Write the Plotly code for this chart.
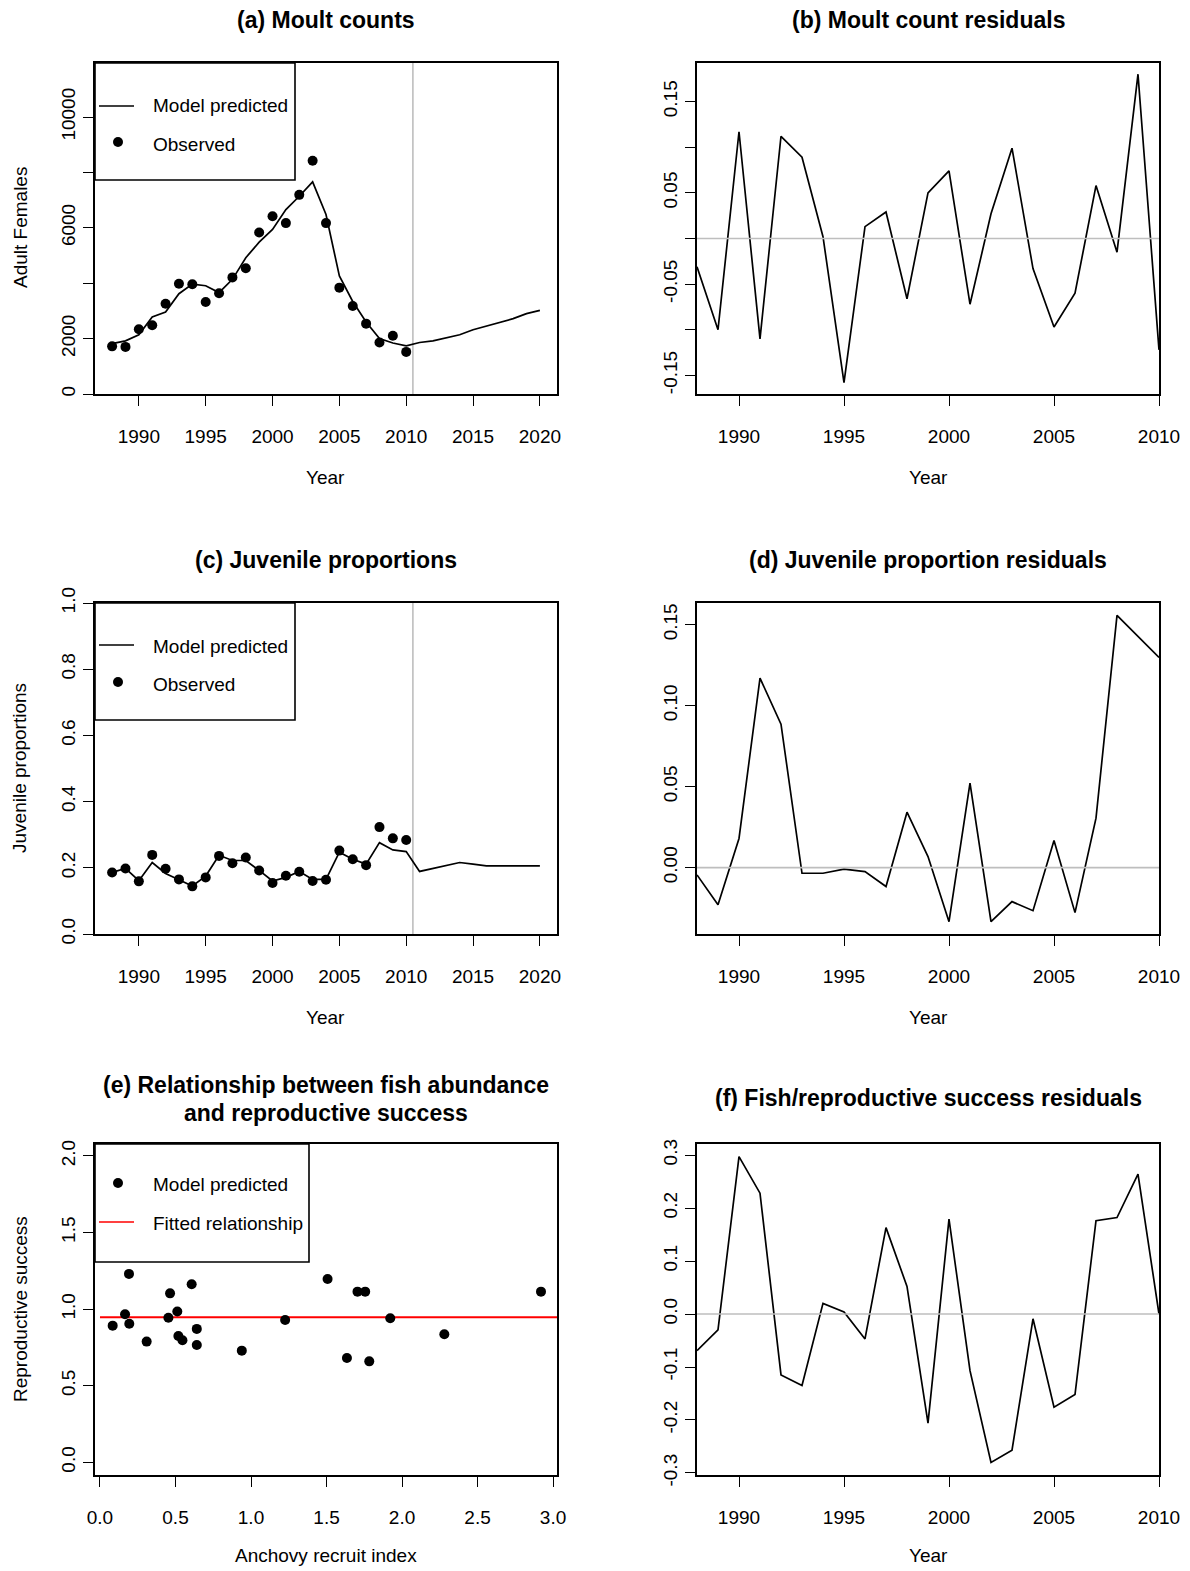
import plotly.graph_objects as go

# ---------------- data ----------------
years_obs = list(range(1988, 2011))
years_pred = list(range(1988, 2021))

moult_obs = [1720, 1700, 2340, 2480, 3260, 3980, 3960, 3320, 3640, 4210, 4540, 5830,
             6420, 6170, 7190, 8420, 6170, 3840, 3180, 2540, 1860, 2100, 1520]
moult_pred = [1820, 1920, 2140, 2780, 2960, 3620, 3970, 3910, 3660, 4140, 4920, 5480,
              5940, 6660, 7140, 7660, 6480, 4260, 3340, 2600, 2000, 1840, 1740,
              1860, 1920, 2040, 2140, 2320, 2460, 2600, 2720, 2900, 3020]
moult_resid = [-0.031, -0.100, 0.117, -0.110, 0.112, 0.089, 0.002, -0.158, 0.013, 0.029,
               -0.066, 0.050, 0.074, -0.072, 0.027, 0.099, -0.033, -0.097, -0.060, 0.058,
               -0.015, 0.180, -0.122]

juv_obs = [0.186, 0.198, 0.159, 0.239, 0.197, 0.165, 0.144, 0.171, 0.236, 0.214, 0.231,
           0.192, 0.154, 0.176, 0.188, 0.160, 0.164, 0.252, 0.226, 0.208, 0.323, 0.289, 0.284]
juv_pred = [0.186, 0.198, 0.161, 0.216, 0.183, 0.163, 0.145, 0.175, 0.238, 0.222, 0.222,
            0.192, 0.160, 0.171, 0.189, 0.165, 0.165, 0.247, 0.226, 0.211, 0.276, 0.254,
            0.249, 0.189, 0.198, 0.207, 0.216, 0.211, 0.206, 0.206, 0.206, 0.206, 0.206]
juv_resid = [-0.0045, -0.023, 0.018, 0.117, 0.0886, -0.0035, -0.0035, -0.001, -0.0025,
             -0.0117, 0.0342, 0.0068, -0.0334, 0.0521, -0.0334, -0.021, -0.0266, 0.0167,
             -0.0278, 0.0305, 0.1558, 0.1428, 0.1298]

anchovy_idx = [0.084, 0.166, 0.192, 0.194, 0.309, 0.453, 0.464, 0.512, 0.519, 0.546,
               0.607, 0.641, 0.641, 0.939, 1.226, 1.507, 1.635, 1.705, 1.756, 1.783,
               1.922, 2.280, 2.920]
repro_success = [0.892, 0.966, 1.230, 0.905, 0.788, 0.944, 1.103, 0.984, 0.825, 0.797,
                 1.162, 0.871, 0.766, 0.729, 0.929, 1.197, 0.681, 1.114, 1.114, 0.659,
                 0.940, 0.836, 1.114]
fit_x = [0.0, 3.1]
fit_y = [0.947, 0.947]
fish_resid = [-0.069, -0.030, 0.297, 0.228, -0.115, -0.135, 0.020, 0.004, -0.047, 0.163,
              0.052, -0.206, 0.179, -0.107, -0.280, -0.257, -0.009, -0.176, -0.152, 0.176,
              0.182, 0.264, 0.0]

# ---------------- layout helpers ----------------
# The page body has an 8 px margin, so the figure is sized to fit the window and
# all positions below are given in window pixels and shifted by that offset.
OFF = 8
W, H = 1190 - OFF, 1571 - OFF
FONT = "Liberation Sans, Arial, sans-serif"
FS = 19
TFS = 23
cols = [(95, 557), (697, 1159)]
rows = [(63, 394), (603, 934), (1144, 1475)]


def px(x):
    return (x - OFF) / W


def py(y):
    return 1 - (y - OFF) / H


fig = go.Figure()

panels = {
    1: dict(col=0, row=0, xr=[1986.72, 2021.28], yr=[0, 11950],
            xt=[1990, 1995, 2000, 2005, 2010, 2015, 2020],
            yt=[0, 2000, 4000, 6000, 8000, 10000],
            ytt=["0", "2000", "", "6000", "", "10000"]),
    2: dict(col=1, row=0, xr=[1988, 2010], yr=[-0.1704, 0.1923],
            xt=[1990, 1995, 2000, 2005, 2010],
            yt=[-0.15, -0.10, -0.05, 0.0, 0.05, 0.10, 0.15],
            ytt=["-0.15", "", "-0.05", "", "0.05", "", "0.15"]),
    3: dict(col=0, row=1, xr=[1986.72, 2021.28], yr=[0, 1],
            xt=[1990, 1995, 2000, 2005, 2010, 2015, 2020],
            yt=[0, 0.2, 0.4, 0.6, 0.8, 1.0],
            ytt=["0.0", "0.2", "0.4", "0.6", "0.8", "1.0"]),
    4: dict(col=1, row=1, xr=[1988, 2010], yr=[-0.0410, 0.1634],
            xt=[1990, 1995, 2000, 2005, 2010],
            yt=[0.0, 0.05, 0.10, 0.15],
            ytt=["0.00", "0.05", "0.10", "0.15"]),
    5: dict(col=0, row=2, xr=[-0.033, 3.026], yr=[-0.083, 2.078],
            xt=[0, 0.5, 1.0, 1.5, 2.0, 2.5, 3.0],
            xtt=["0.0", "0.5", "1.0", "1.5", "2.0", "2.5", "3.0"],
            yt=[0, 0.5, 1.0, 1.5, 2.0],
            ytt=["0.0", "0.5", "1.0", "1.5", "2.0"]),
    6: dict(col=1, row=2, xr=[1988, 2010], yr=[-0.3038, 0.3208],
            xt=[1990, 1995, 2000, 2005, 2010],
            yt=[-0.3, -0.2, -0.1, 0.0, 0.1, 0.2, 0.3],
            ytt=["-0.3", "-0.2", "-0.1", "0.0", "0.1", "0.2", "0.3"]),
}

axis_common = dict(showline=True, mirror=True, linecolor="black", linewidth=1.6,
                   ticks="outside", ticklen=10, tickwidth=1.4, tickcolor="black",
                   showgrid=False, zeroline=False, automargin=False,
                   tickfont=dict(family=FONT, size=FS, color="black"))

for i, p in panels.items():
    c0, c1 = cols[p["col"]]
    r0, r1 = rows[p["row"]]
    xa = dict(axis_common, domain=[px(c0), px(c1)], range=p["xr"],
              tickmode="array", tickvals=p["xt"],
              ticktext=p.get("xtt", [str(v) for v in p["xt"]]),
              anchor=f"y{i}" if i > 1 else "y", ticklabelstandoff=14)
    ya = dict(axis_common, domain=[py(r1), py(r0)], range=p["yr"],
              tickmode="array", tickvals=p["yt"], ticktext=p["ytt"],
              tickangle=-90, anchor=f"x{i}" if i > 1 else "x", ticklabelstandoff=1)
    fig.layout[f"xaxis{i if i > 1 else ''}"] = xa
    fig.layout[f"yaxis{i if i > 1 else ''}"] = ya

line_style = dict(color="black", width=1.7)
mk = dict(color="black", size=10)

# (a)
fig.add_trace(go.Scatter(x=years_pred, y=moult_pred, mode="lines", line=line_style,
                         xaxis="x", yaxis="y", name="Model predicted"))
fig.add_trace(go.Scatter(x=years_obs, y=moult_obs, mode="markers", marker=mk,
                         xaxis="x", yaxis="y", name="Observed"))
# (b)
fig.add_trace(go.Scatter(x=years_obs, y=moult_resid, mode="lines", line=line_style,
                         xaxis="x2", yaxis="y2", name="Residual"))
# (c)
fig.add_trace(go.Scatter(x=years_pred, y=juv_pred, mode="lines", line=line_style,
                         xaxis="x3", yaxis="y3", name="Model predicted"))
fig.add_trace(go.Scatter(x=years_obs, y=juv_obs, mode="markers", marker=mk,
                         xaxis="x3", yaxis="y3", name="Observed"))
# (d)
fig.add_trace(go.Scatter(x=years_obs, y=juv_resid, mode="lines", line=line_style,
                         xaxis="x4", yaxis="y4", name="Residual"))
# (e)
fig.add_trace(go.Scatter(x=fit_x, y=fit_y, mode="lines", line=dict(color="red", width=1.8),
                         xaxis="x5", yaxis="y5", name="Fitted relationship"))
fig.add_trace(go.Scatter(x=anchovy_idx, y=repro_success, mode="markers", marker=mk,
                         xaxis="x5", yaxis="y5", name="Model predicted"))
# (f)
fig.add_trace(go.Scatter(x=years_obs, y=fish_resid, mode="lines", line=line_style,
                         xaxis="x6", yaxis="y6", name="Residual"))

shapes = []
GREY = "#BEBEBE"
for i in (2, 4, 6):
    shapes.append(dict(type="line", xref=f"x{i} domain", yref=f"y{i}", x0=0, x1=1,
                       y0=0, y1=0, line=dict(color=GREY, width=1.6), layer="above"))
for i in ("", "3"):
    shapes.append(dict(type="line", xref=f"x{i}", yref=f"y{i} domain", x0=2010.5, x1=2010.5,
                       y0=0, y1=1, line=dict(color=GREY, width=1.6), layer="below"))

annotations = []


def text(x, y, s, size=FS, bold=False, xanchor="center", angle=0):
    annotations.append(dict(xref="paper", yref="paper", x=px(x), y=py(y),
                            text=f"<b>{s}</b>" if bold else s, showarrow=False,
                            xanchor=xanchor, yanchor="middle", textangle=angle,
                            font=dict(family=FONT, size=size, color="black")))


def legend_box(x0, y0, x1, y1):
    shapes.append(dict(type="rect", xref="paper", yref="paper", x0=px(x0), x1=px(x1),
                       y0=py(y1), y1=py(y0), line=dict(color="black", width=1.6),
                       fillcolor="white", layer="above"))


def legend_line(y, color="black"):
    shapes.append(dict(type="line", xref="paper", yref="paper", x0=px(99), x1=px(134),
                       y0=py(y), y1=py(y), line=dict(color=color, width=1.7), layer="above"))


def legend_dot(y):
    shapes.append(dict(type="circle", xref="paper", yref="paper", x0=px(113), x1=px(123),
                       y0=py(y + 5), y1=py(y - 5), line=dict(color="black", width=0),
                       fillcolor="black", layer="above"))


legend_box(95, 63, 295, 180)
legend_line(106)
legend_dot(142)
text(151, 106, "Model predicted", xanchor="left")
text(151, 145, "Observed", xanchor="left")

legend_box(95, 603, 295, 720)
legend_line(645)
legend_dot(682)
text(151, 646, "Model predicted", xanchor="left")
text(151, 684, "Observed", xanchor="left")

legend_box(95, 1144, 309, 1262)
legend_dot(1183)
legend_line(1222, color="red")
text(151, 1184, "Model predicted", xanchor="left")
text(151, 1223, "Fitted relationship", xanchor="left")

text(326, 20, "(a) Moult counts", TFS, True)
text(928, 20, "(b) Moult count residuals", TFS, True)
text(326, 560, "(c) Juvenile proportions", TFS, True)
text(928, 560, "(d) Juvenile proportion residuals", TFS, True)
text(326, 1085, "(e) Relationship between fish abundance", TFS, True)
text(326, 1113, "and reproductive success", TFS, True)
text(928, 1098, "(f) Fish/reproductive success residuals", TFS, True)

text(326, 477, "Year")
text(928, 477, "Year")
text(326, 1017, "Year")
text(928, 1017, "Year")
text(326, 1555, "Anchovy recruit index")
text(928, 1555, "Year")
text(20, 228, "Adult Females", angle=-90)
text(20, 768, "Juvenile proportions", angle=-90)
text(20, 1309, "Reproductive success", angle=-90)

fig.update_layout(width=W, height=H, autosize=False,
                  margin=dict(l=0, r=0, t=0, b=0, pad=0, autoexpand=False),
                  paper_bgcolor="white", plot_bgcolor="white", showlegend=False,
                  shapes=shapes, annotations=annotations)

fig.write_html("out.html")
